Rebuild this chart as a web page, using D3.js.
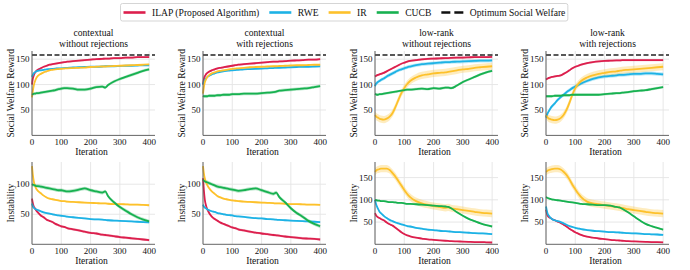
<!DOCTYPE html>
<html>
<head>
<meta charset="utf-8">
<script src="https://cdn.jsdelivr.net/npm/d3@7"></script>
<style>
  body { margin: 0; background: #fff; }
</style>
</head>
<body>
<div id="chart"></div>
<script>
var width = 690, height = 270;
var FONT = "'Liberation Serif', 'Times New Roman', Times, 'DejaVu Serif', serif";

var ITER = [0,3,6,10,15,20,30,40,50,60,70,80,90,100,110,120,140,160,180,200,220,240,250,260,280,300,320,340,360,380,400];

var seriesNames = ["ILAP (Proposed Algorithm)", "RWE", "IR", "CUCB"];
var colors = ["#dc1f4d", "#1db2e5", "#fdc12b", "#17b150"];
var optimumLabel = "Optimum Social Welfare";
var optimum = 158;

var titles = [["contextual", "without rejections"], ["contextual", "with rejections"],
              ["low-rank", "without rejections"], ["low-rank", "with rejections"]];
var xTicks = [0, 100, 200, 300, 400];

// social welfare reward: [ILAP, RWE, IR, CUCB]
var rewardCtxNoRej = [
  [100,112,118,123,127,129,132,135,137,139,140,141,142,143,144,145,146,147,148,149,150,150.5,151,151,152,152,153,153,154,154,154],
  [115,119,122,124,126,127,128,129,130,130.5,131,131.5,132,132,132.5,133,133.5,134,134.5,135,135,135.5,136,136,136,136.5,137,137,137.5,138,138],
  [75,88,98,106,113,117,121,124,126,128,129,130,130.5,131,131.5,132,132.5,133,133.5,134.5,135,135.5,135.5,136,136.5,137,137.5,138,138.5,139,139.5],
  [80,81,82,82,83,83,84,85,86,87,88,89,91,92,93,93,92,90,90,92,95,96,94,99,106,111,115,119,123,127,130]
];
var rewardCtxRej = [
  [100,110,116,120,123,125,128,130,132,133,134,135,136,137,138,139,140,141,142,143,144,145,145,145.5,146,147,147.5,148,149,149,150],
  [100,105,109,112,115,117,120,122,124,125,126,127,127.5,128,128.5,129,130,130.5,131,131.5,132,132.5,133,133,133.5,134,134.5,135,135,135.5,136],
  [82,95,104,110,115,118,122,124,126,127,128,129,130,131,131.5,132,133,134,134.5,135,135.5,136,136,136.5,137,137.5,138,138,138.5,139,139],
  [78,77,77,77,77,78,78,78,79,79,80,80,80,81,81,81,82,82,82,83,84,85,86,88,89,90,91,92,93,95,97]
];
var rewardLrNoRej = [
  [116,117,118,119,120,121,123,126,129,132,135,138,141,143,145,146.5,148,149.5,150.5,151,151.5,152,152,152.5,153,153,153.5,154,154,154,154.5],
  [97,101,103,105,107,109,112,116,119,122,125,128,130,132,134,135.5,138,140,141,142,143,144,144,144.5,145,145.5,146,146.5,147,147,147.5],
  [40,38,36,35,33,32,31,33,37,44,56,70,83,93,101,107,114,118,120,122,123,124,125,126,128,130,131,133,134,135,136],
  [82,81,80,80,81,81,82,83,84,85,86,87,88,89,90,90,91,92,91,93,92,94,94,93,98,105,110,115,120,124,127]
];
var rewardLrRej = [
  [110,111,112,113,114,115,116,117,118,121,124,128,132,135,137,139,142,144,145.5,146.5,147,147.5,147.5,148,148,148,148,148,148,148,148],
  [35,40,44,48,53,57,63,70,75,80,85,89,93,96,99,102,107,111,114,116,117,118,119,119,120,121,121,122,122,121,120],
  [40,37,35,33,32,31,30,31,34,40,50,64,80,93,101,107,114,118,121,123,125,126,127,128,129,130,131,132,133,134,135],
  [77,77,77,77,77,77,78,78,78,79,79,79,80,80,80,80,80,80,80,81,82,83,83,84,85,87,88,89,91,93,95]
];

// instability: [ILAP, RWE, IR, CUCB]
var instabCtxNoRej = [
  [76,68,63,60,56,53,48,45,41,39,37,34,32,30,29,27,25,23,21,19,18,16,15.5,15,13.5,12,11,10,9,8,7],
  [68,63,61,59,58,57,55,53,52,51,50,49,48,47.5,47,46,45,44,43,42,41.5,41,40.5,40,39.5,39,38.5,38,37.5,37,36.5],
  [130,115,105,98,92,89,85,81,78,76,75,74,73,72,72,71,70.5,70,69.5,69,68.5,68,68,67.5,67,67,66.5,66,66,65.5,65],
  [100,99,99,98,97,97,96,95,94,93,92,91,90,90,89,88,89,91,93,90,88,86,88,80,70,62,56,50,45,41,38]
];
var instabCtxRej = [
  [110,90,75,65,58,53,46,42,39,36,34,32,30,28,27,25,23,21,19.5,18,17,15.5,15,14.5,13,12,11,10,9.5,9,8],
  [66,63,61,60,58,57,55,54,52,51,50,49,48.5,48,47,46.5,45.5,44.5,43.5,43,42,41.5,41,40.5,40,39.5,39,38.5,38,37.5,37],
  [130,118,110,104,98,94,88,84,80,78,76,75,74,73,72.5,72,71,70.5,70,69.5,69,68.5,68,68,67.5,67,67,66.5,66,66,65.5],
  [108,106,105,104,103,102,100,98,96,95,94,93,92,91,90,89,90,92,93,90,87,84,86,79,70,60,52,46,39,34,30]
];
var instabLrNoRej = [
  [70,66,63,61,59,57,54,49,45,42,37,32,27,23,20,18,15,13,11,10,9,8,7.5,7,6.5,6,5.5,5,5,4.5,4],
  [100,92,86,80,74,70,64,59,55,52,49,47,45,43,41,40,37,35,33,32,30.5,29.5,29,28.5,27.5,27,26,25,24.5,24,23],
  [163,165,167,168,169,170,170,170,167,160,152,142,132,122,113,106,97,92,89,86,84,82,83,81,79,77,75,73,71,70,69],
  [100,99,99,98,98,97,97,96,95,95,94,93,93,92,91,91,90,89,88,87,86,85,84,81,72,64,57,52,47,43,40]
];
var instabLrRej = [
  [78,70,64,61,59,57,54,51,48,44,40,35,31,27,24,21,17,15,13,11.5,10,9,8.5,8,7,6.5,6,5.5,5,5,4.5],
  [85,75,68,64,60,57,54,52,50,47,44,41,39,37,35.5,34,32,30.5,29.5,28.5,27.5,27,26.5,26,25,24.5,24,23,22.5,22,21],
  [163,164,166,167,168,169,170,170,168,163,156,146,134,124,114,106,96,92,90,88,86,84,83,82,79,77,75,73,71,70,69],
  [106,105,104,103,102,101,100,99,98,97,96,95,94,93,92,91,90,89,88,88,87,84,83,80,72,63,54,46,41,37,33]
];

// half width of the shaded band: [ILAP, RWE, IR, CUCB]
var bandCtx = [2, 1.5, 1.5, 3];
var bandLrReward = [2, 3.5, 7, 2.5];
var bandLrInstab = [1.5, 2, 8, 2];

var svg = d3.select('#chart').append('svg')
    .attr('width', width)
    .attr('height', height)
    .style('font-family', FONT);

var panelLeft = [32, 203, 375, 546], panelW = 123;

var panels = [
  {col: 0, row: 0, data: rewardCtxNoRej, band: bandCtx, ymax: 166, yTicks: [50,100,150]},
  {col: 1, row: 0, data: rewardCtxRej, band: bandCtx, ymax: 166, yTicks: [50,100,150]},
  {col: 2, row: 0, data: rewardLrNoRej, band: bandLrReward, ymax: 166, yTicks: [50,100,150]},
  {col: 3, row: 0, data: rewardLrRej, band: bandLrReward, ymax: 166, yTicks: [50,100,150]},
  {col: 0, row: 1, data: instabCtxNoRej, band: bandCtx, ymax: 137, yTicks: [50,100]},
  {col: 1, row: 1, data: instabCtxRej, band: bandCtx, ymax: 137, yTicks: [50,100]},
  {col: 2, row: 1, data: instabLrNoRej, band: bandLrInstab, ymax: 185, yTicks: [50,100,150]},
  {col: 3, row: 1, data: instabLrRej, band: bandLrInstab, ymax: 185, yTicks: [50,100,150]}
];
var rowTop = [51, 162], rowBottom = [135.4, 244.3];
var yLabels = ["Social Welfare Reward", "Instability"];

function label(sel, size){
  return sel.style('font-family', FONT).style('font-size', size).style('fill', '#111');
}

panels.forEach(function(p){
  var x0 = panelLeft[p.col];
  var x = d3.scaleLinear().domain([0, 420]).range([x0, x0 + panelW]);
  var y = d3.scaleLinear().domain([0, p.ymax]).range([rowBottom[p.row], rowTop[p.row]]);
  var g = svg.append('g');

  // grid
  g.selectAll('.gx').data(xTicks).enter().append('line')
      .attr('x1', d => x(d)).attr('x2', d => x(d))
      .attr('y1', y.range()[0]).attr('y2', y.range()[1])
      .style('stroke', '#e4e4e4').style('stroke-width', 0.9);
  g.selectAll('.gy').data(p.yTicks).enter().append('line')
      .attr('x1', x.range()[0]).attr('x2', x.range()[1])
      .attr('y1', d => y(d)).attr('y2', d => y(d))
      .style('stroke', '#e4e4e4').style('stroke-width', 0.9);

  // bands then lines
  p.data.forEach(function(vals, i){
    var s = p.band[i];
    var area = d3.area()
        .x((d, k) => x(ITER[k]))
        .y0(d => y(d - s)).y1(d => y(d + s))
        .curve(d3.curveMonotoneX);
    g.append('path').datum(vals).attr('d', area)
        .style('fill', colors[i]).style('opacity', 0.3);
  });
  p.data.forEach(function(vals, i){
    var line = d3.line()
        .x((d, k) => x(ITER[k]))
        .y(d => y(d))
        .curve(d3.curveMonotoneX);
    g.append('path').datum(vals).attr('d', line)
        .style('fill', 'none').style('stroke', colors[i]).style('stroke-width', 1.8);
  });

  if(p.row == 0){
    g.append('line')
        .attr('x1', x(0)).attr('x2', x(420))
        .attr('y1', y(optimum)).attr('y2', y(optimum))
        .style('stroke', '#222').style('stroke-width', 1.4)
        .style('stroke-dasharray', '5,2.5');
  }

  // spines
  g.append('line').attr('x1', x0).attr('x2', x0)
      .attr('y1', y.range()[0]).attr('y2', y.range()[1])
      .style('stroke', '#555').style('stroke-width', 0.9);
  g.append('line').attr('x1', x0).attr('x2', x0 + panelW)
      .attr('y1', y.range()[0]).attr('y2', y.range()[0])
      .style('stroke', '#555').style('stroke-width', 0.9);

  // tick labels
  label(g.selectAll('.tx').data(xTicks).enter().append('text'), '9px')
      .attr('x', d => x(d)).attr('y', y.range()[0] + 9.5)
      .attr('text-anchor', 'middle')
      .text(d => d);
  label(g.selectAll('.ty').data(p.yTicks).enter().append('text'), '9px')
      .attr('x', x0 - 2.5).attr('y', d => y(d) + 3)
      .attr('text-anchor', 'end')
      .text(d => d);

  label(g.append('text'), '9.6px')
      .attr('x', x0 + panelW / 2 - 2).attr('y', y.range()[0] + 19.3)
      .attr('text-anchor', 'middle')
      .text('Iteration');
  var cy = (y.range()[0] + y.range()[1]) / 2;
  label(g.append('text'), '9.6px')
      .attr('transform', 'translate(' + (x0 - 18) + ',' + cy + ') rotate(-90)')
      .attr('text-anchor', 'middle')
      .text(yLabels[p.row]);

  if(p.row == 0){
    titles[p.col].forEach(function(t, k){
      label(g.append('text'), '9.6px')
          .attr('x', x0 + panelW / 2).attr('y', 36 + k * 11)
          .attr('text-anchor', 'middle')
          .text(t);
    });
  }
});

// legend
var leg = svg.append('g');
var box = leg.append('rect')
    .attr('x', 120.5).attr('y', 3.5).attr('height', 17.5).attr('rx', 2)
    .style('fill', '#fff').style('stroke', '#d0d0d0').style('stroke-width', 0.9);
var lx = 123.5, ly = 12.5;
var entries = seriesNames.map((n, i) => ({name: n, color: colors[i], dash: null}));
entries.push({name: optimumLabel, color: '#111', dash: '9,4'});
entries.forEach(function(e){
  leg.append('line')
      .attr('x1', lx).attr('x2', lx + 22).attr('y1', ly).attr('y2', ly)
      .style('stroke', e.color).style('stroke-width', 2.6)
      .style('stroke-dasharray', e.dash);
  var t = label(leg.append('text'), '9.6px')
      .attr('x', lx + 28.5).attr('y', ly + 3.3)
      .text(e.name);
  lx += 28.5 + t.node().getComputedTextLength() + 10;
});
box.attr('width', lx - 10 + 2.5 - 120.5);
</script>
</body>
</html>
